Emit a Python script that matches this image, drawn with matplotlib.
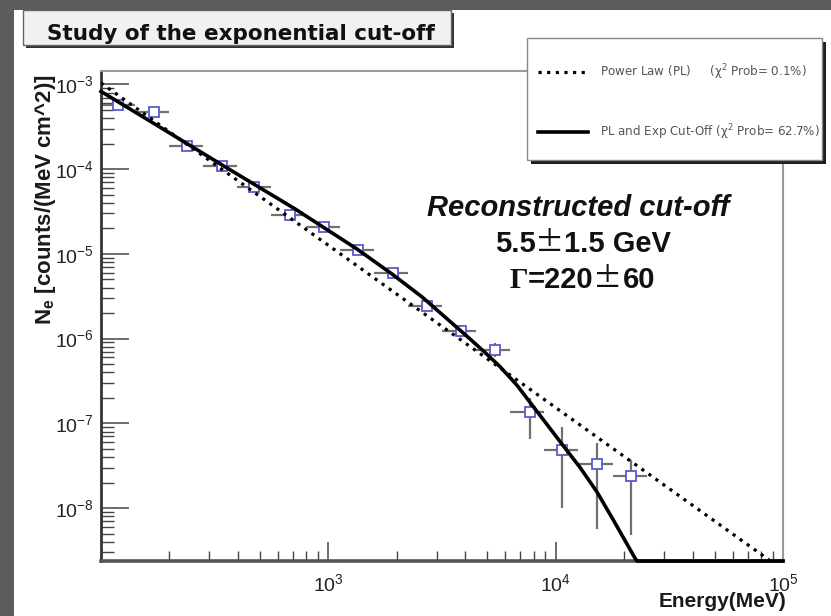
import numpy as np
import matplotlib
matplotlib.use("Agg")
import matplotlib.pyplot as plt
from matplotlib.patches import Rectangle
from matplotlib.lines import Line2D
from matplotlib.ticker import FixedLocator, LogLocator, LogFormatterMathtext, NullFormatter

# ---------------- data ----------------
# binned spectrum: bin centre, bin edges (MeV) and flux with its error band
energy = [119, 171, 238, 340, 472, 679, 960, 1355, 1919, 2710, 3847, 5383, 7709, 10660, 15170, 21480]
energy_lo = [100, 141, 200, 282, 398, 562, 794, 1122, 1585, 2239, 3162, 4467, 6310, 8913, 12589, 17783]
energy_hi = [141, 200, 282, 398, 562, 794, 1122, 1585, 2239, 3162, 4467, 6310, 8913, 12589, 17783, 25119]
flux = [5.73e-4, 4.70e-4, 1.88e-4, 1.09e-4, 6.2e-5, 2.88e-5, 2.09e-5, 1.11e-5, 6.0e-6,
        2.43e-6, 1.24e-6, 7.33e-7, 1.36e-7, 4.84e-8, 3.31e-8, 2.39e-8]
flux_lo = [5.2e-4, 4.3e-4, 1.72e-4, 1.0e-4, 5.7e-5, 2.63e-5, 1.9e-5, 1.0e-5, 5.4e-6,
           2.15e-6, 1.05e-6, 6.1e-7, 6.5e-8, 9.9e-9, 5.6e-9, 4.8e-9]
flux_hi = [6.3e-4, 5.15e-4, 2.05e-4, 1.19e-4, 6.8e-5, 3.15e-5, 2.3e-5, 1.22e-5, 6.7e-6,
           2.75e-6, 1.46e-6, 8.8e-7, 2.0e-7, 9.1e-8, 5.9e-8, 3.7e-8]

# fitted models
pl_energy = [100, 100000]
pl_flux = [1.04e-3, 1.86e-9]
cut_energy = [100, 173, 341, 714, 1337, 1905, 2584, 3296, 4202, 4887, 5692, 6745, 7977,
              9270, 10813, 12805, 15167, 17941, 22355, 22800, 100000]
cut_flux = [8.26e-4, 3.39e-4, 1.12e-4, 3.39e-5, 1.14e-5, 5.79e-6, 3.10e-6, 1.75e-6, 9.89e-7,
            6.86e-7, 4.66e-7, 2.83e-7, 1.57e-7, 9.29e-8, 5.40e-8, 3.01e-8, 1.56e-8, 7.21e-9,
            2.55e-9, 2.2e-9, 1e-15]

x_range = (100, 1e5)
y_range = (2.37e-9, 1.44e-3)

legend_labels = ["Power Law (PL)     ($\\chi^{2}$ Prob= 0.1%)",
                 "PL and Exp Cut-Off ($\\chi^{2}$ Prob= 62.7%)"]
title_text = "Study of the exponential cut-off"
note_lines = ["Reconstructed cut-off", "5.5", "1.5 GeV", "=220", "60"]

# ---------------- style ----------------
plt.rcParams["font.family"] = ["Liberation Sans", "DejaVu Sans"]
plt.rcParams["mathtext.fontset"] = "custom"
plt.rcParams["mathtext.rm"] = "Liberation Sans:bold"
plt.rcParams["mathtext.bf"] = "Liberation Sans:bold"
plt.rcParams["mathtext.it"] = "Liberation Sans:bold:italic"
plt.rcParams["mathtext.default"] = "rm"

W, H = 831, 616
fig = plt.figure(figsize=(W / 100, H / 100), dpi=100)
fig.patch.set_facecolor("white")


def fx(px):
    return px / W


def fy(py):
    return 1 - py / H


def add_rect(x0, y0, x1, y1, **kw):
    r = Rectangle((fx(x0), fy(y1)), fx(x1) - fx(x0), fy(y0) - fy(y1),
                  transform=fig.transFigure, **kw)
    fig.patches.append(r)
    return r


# slide frame
add_rect(0, 0, W, 10, facecolor="#5c5c5c", edgecolor="none", zorder=0)
add_rect(0, 0, 14, H, facecolor="#5c5c5c", edgecolor="none", zorder=0)

# ---------------- axes ----------------
ax = fig.add_axes([fx(101), fy(561), fx(783) - fx(101), fy(71) - fy(561)])
ax.set_xscale("log")
ax.set_yscale("log")
ax.set_xlim(*x_range)
ax.set_ylim(*y_range)

xerr = [np.array(energy) - np.array(energy_lo), np.array(energy_hi) - np.array(energy)]
yerr = [np.array(flux) - np.array(flux_lo), np.array(flux_hi) - np.array(flux)]
ax.errorbar(energy, flux, xerr=xerr, yerr=yerr, fmt="none", ecolor="#707070",
            elinewidth=1.6, capsize=0, zorder=2)
ax.plot(energy, flux, linestyle="none", marker="s", markersize=7.8,
        markerfacecolor="white", markeredgecolor="#5a5ad0", markeredgewidth=1.3, zorder=3)

ax.plot(pl_energy, pl_flux, color="black", lw=2.3, linestyle=(0, (1.0, 1.7)),
        dash_capstyle="butt", zorder=4)
ax.plot(cut_energy, np.maximum(cut_flux, y_range[0]), color="black", lw=2.6,
        zorder=5, clip_on=False, solid_joinstyle="round")

ax.xaxis.set_major_locator(FixedLocator([1e3, 1e4, 1e5]))
ax.xaxis.set_major_formatter(LogFormatterMathtext())
ax.xaxis.set_minor_locator(LogLocator(base=10, subs=np.arange(2, 10), numticks=20))
ax.xaxis.set_minor_formatter(NullFormatter())
ax.yaxis.set_major_locator(FixedLocator([1e-8, 1e-7, 1e-6, 1e-5, 1e-4, 1e-3]))
ax.yaxis.set_major_formatter(LogFormatterMathtext())
ax.yaxis.set_minor_locator(LogLocator(base=10, subs=np.arange(2, 10), numticks=30))
ax.yaxis.set_minor_formatter(NullFormatter())

ax.tick_params(axis="both", which="both", direction="in", top=False, right=False,
               colors="#444444", labelcolor="#222222")
ax.tick_params(axis="y", which="major", length=20, width=1.1, labelsize=14, pad=5)
ax.tick_params(axis="y", which="minor", length=9, width=1.0)
ax.tick_params(axis="x", which="major", length=14, width=1.1, labelsize=14, pad=9)
ax.tick_params(axis="x", which="minor", length=7, width=1.0)

ax.spines["top"].set_color("#9a9a9a")
ax.spines["right"].set_color("#9a9a9a")
ax.spines["top"].set_linewidth(1.5)
ax.spines["right"].set_linewidth(1.5)
ax.spines["left"].set_color("#333333")
ax.spines["left"].set_linewidth(2.0)
ax.spines["bottom"].set_color("#555555")
ax.spines["bottom"].set_linewidth(2.6)

# axis titles
fig.text(fx(46), fy(74), "N$_{e}$ [counts/(MeV cm^2)]", rotation=90, ha="center", va="top",
         fontsize=16, weight="bold", color="#1a1a1a")
fig.text(fx(786), fy(592), "Energy(MeV)", ha="right", va="top", fontsize=15,
         weight="bold", color="#1a1a1a")

# ---------------- title box ----------------
renderer = fig.canvas.get_renderer()
t_title = fig.text(fx(47), fy(40), title_text, ha="left", va="baseline", fontsize=15.5,
                   weight="bold", family="DejaVu Sans", color="#111111", zorder=12)
tw = t_title.get_window_extent(renderer).width
add_rect(26, 13, 47 + tw + 19, 48, facecolor="#333333", edgecolor="none", zorder=10)
add_rect(23, 10, 47 + tw + 16, 45, facecolor="#f1f1f1", edgecolor="#666666",
         linewidth=1.0, zorder=11)

# ---------------- legend box ----------------
add_rect(531, 42, 826, 164, facecolor="#1e1e1e", edgecolor="none", zorder=10)
add_rect(527, 38, 822, 160, facecolor="white", edgecolor="#888888", linewidth=1.0, zorder=11)
fig.lines.append(Line2D([fx(538), fx(588)], [fy(72), fy(72)], transform=fig.transFigure,
                        color="black", lw=2.3, linestyle=(0, (1.0, 1.7)),
                        dash_capstyle="butt", zorder=12))
fig.lines.append(Line2D([fx(538), fx(588)], [fy(132), fy(132)], transform=fig.transFigure,
                        color="black", lw=2.6, zorder=12))
for yy, lab in zip([72, 132], legend_labels):
    fig.text(fx(600), fy(yy), lab, ha="left", va="center", fontsize=8.6, color="#555555",
             family="DejaVu Sans", zorder=12, math_fontfamily="dejavusans")


# ---------------- annotation ----------------
def centred_run(y_base, x_centre, segments, size):
    texts = []
    for s, fam, wt in segments:
        t = fig.text(0, fy(y_base), s, fontsize=size, family=fam, weight=wt,
                     va="baseline", ha="left", color="#111111")
        texts.append(t)
    widths = [t.get_window_extent(renderer).width for t in texts]
    x = x_centre - sum(widths) / 2
    for t, w in zip(texts, widths):
        t.set_x(fx(x))
        x += w


fig.text(fx(578), fy(216), note_lines[0], ha="center", va="baseline", fontsize=21,
         weight="bold", style="italic", color="#111111")
centred_run(252, 583, [(note_lines[1], "Liberation Sans", "bold"),
                       ("\u00b1", "Noto Sans CJK JP", "normal"),
                       (note_lines[2], "Liberation Sans", "bold")], 21)
centred_run(288, 582, [("\u0393", "Liberation Serif", "bold"),
                       (note_lines[3], "Liberation Sans", "bold"),
                       ("\u00b1", "Noto Sans CJK JP", "normal"),
                       (note_lines[4], "Liberation Sans", "bold")], 21)

fig.savefig("out.png", dpi=100, facecolor=fig.get_facecolor())
